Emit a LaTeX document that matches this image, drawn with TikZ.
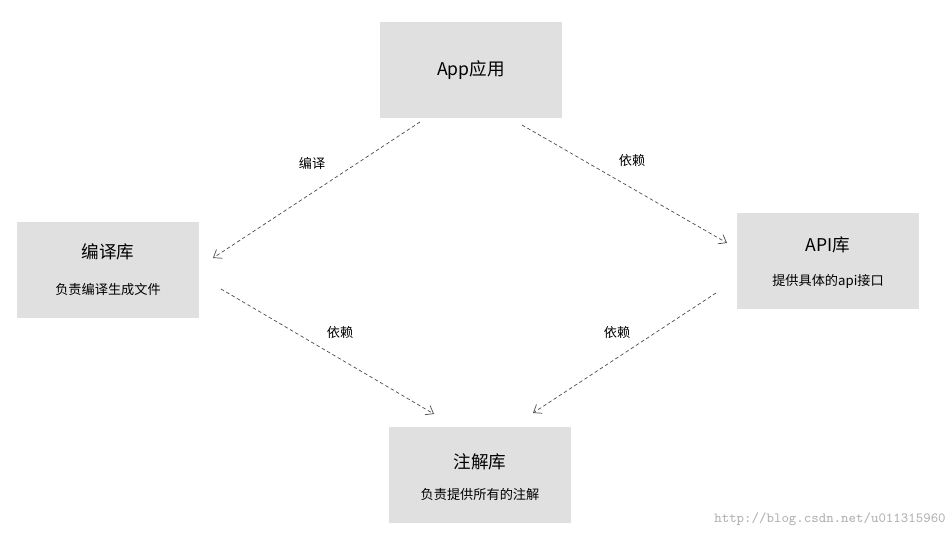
\documentclass[tikz,border=0pt]{standalone}
\usepackage{fontspec}
\newfontfamily\cjk{Noto Sans CJK SC}
\usetikzlibrary{arrows.meta}
\begin{document}
\begin{tikzpicture}[x=0.02cm,y=-0.02cm,
  box/.style={fill=black!12,minimum width=3.64cm,minimum height=1.92cm,inner sep=0pt},
  ttl/.style={font=\cjk\fontsize{10}{12}\selectfont},
  sub/.style={font=\cjk\fontsize{7.5}{9}\selectfont},
  lbl/.style={font=\cjk\fontsize{7.5}{9}\selectfont},
  dep/.style={draw=black!70,dashed,dash pattern=on 2pt off 1.5pt,line width=0.4pt,-{Straight Barb[length=4pt,width=6pt]}}]
\useasboundingbox (0,0) rectangle (952,540);
\node[box] (app) at (471,70) {};
\node[ttl] (appt) at (471,70) {App应用};
\node[box] (bian) at (108,270) {};
\node[ttl] (biant) at (108,252) {编译库};
\node[sub] (bians) at (108,289) {负责编译生成文件};
\node[box] (api) at (828,261) {};
\node[ttl] (apit) at (828,245) {API库};
\node[sub] (apis) at (828,281) {提供具体的api接口};
\node[box] (zhu) at (480,475) {};
\node[ttl] (zhut) at (480,462) {注解库};
\node[sub] (zhus) at (480,494) {负责提供所有的注解};
\coordinate (a1) at (420,122); \coordinate (b1) at (213,258);
\coordinate (a2) at (522,125); \coordinate (b2) at (727,243);
\coordinate (a3) at (221,289); \coordinate (b3) at (434,414);
\coordinate (a4) at (716,293); \coordinate (b4) at (533,413);
\draw[dep] (a1) -- (b1);
\draw[dep] (a2) -- (b2);
\draw[dep] (a3) -- (b3);
\draw[dep] (a4) -- (b4);
\node[lbl] (l1) at (312,163) {编译};
\node[lbl] (l2) at (632,161) {依赖};
\node[lbl] (l3) at (340,333) {依赖};
\node[lbl] (l4) at (617,333) {依赖};
\node[text=black!30,font=\ttfamily\fontsize{8}{9}\selectfont] (wm) at (830,519) {http://blog.csdn.net/u011315960};
\end{tikzpicture}
\end{document}
